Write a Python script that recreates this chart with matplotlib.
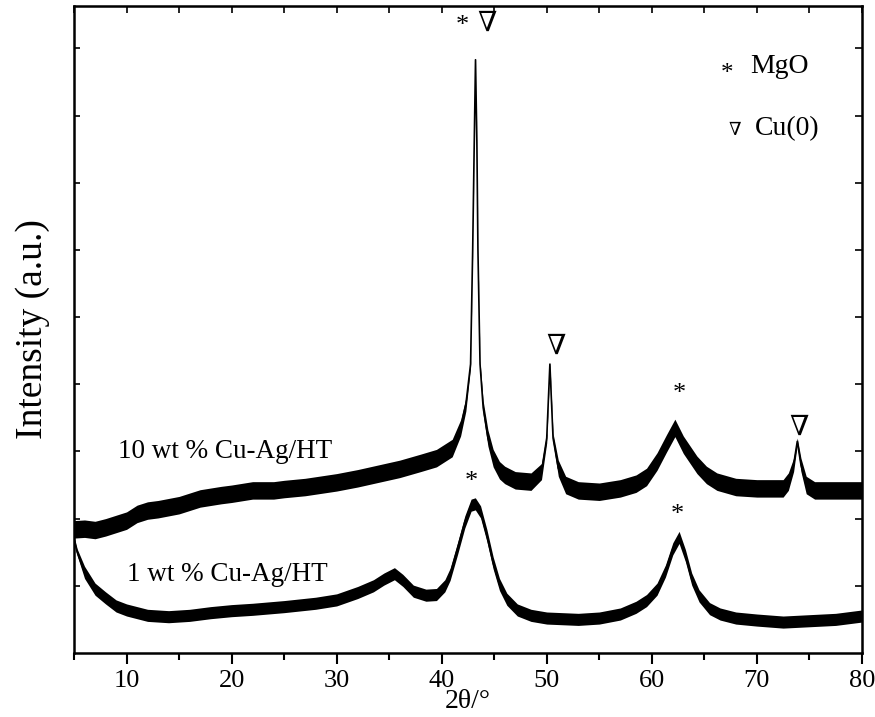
import matplotlib.pyplot as plt
import numpy as np

plt.rcParams['font.family'] = ['Liberation Serif', 'DejaVu Serif']

# 10 wt % Cu-Ag/HT (upper trace) - centre line and noise half-width
x_10 = [5, 6, 7, 8, 9, 10, 11, 12, 13, 15, 17, 19, 20, 22, 24, 25, 27, 30, 32, 34, 36, 38,
        39.5, 40.5, 41.0, 41.8, 42.3, 42.75, 42.95, 43.1, 43.22, 43.35, 43.45, 43.65, 43.95,
        44.4, 44.9, 45.5, 46.0, 47.0, 48.5, 49.5, 50.0, 50.3, 50.6, 51.1, 51.8, 53, 55, 57,
        58.5, 59.5, 60.5, 61.4, 62.2, 63.0, 64.3, 65.2, 66.2, 68, 70, 72.5, 73.0, 73.5, 73.85,
        74.2, 74.7, 75.5, 77.5, 80]
y_10 = [1.84, 1.85, 1.83, 1.87, 1.92, 1.97, 2.07, 2.12, 2.14, 2.2, 2.3, 2.35, 2.37, 2.42,
        2.42, 2.44, 2.47, 2.54, 2.6, 2.67, 2.74, 2.83, 2.9, 3.0, 3.05, 3.35, 3.7, 4.3, 6.0,
        7.6, 8.83, 7.6, 6.0, 4.3, 3.65, 3.2, 2.9, 2.72, 2.65, 2.57, 2.55, 2.7, 3.2, 4.3, 3.2,
        2.75, 2.5, 2.42, 2.4, 2.45, 2.52, 2.62, 2.85, 3.12, 3.35, 3.1, 2.8, 2.65, 2.55, 2.47,
        2.45, 2.45, 2.55, 2.8, 3.15, 2.8, 2.5, 2.42, 2.42, 2.42]
n_10 = [0.13, 0.13, 0.13, 0.13, 0.13, 0.13, 0.13, 0.13, 0.13, 0.13, 0.13, 0.13, 0.13, 0.13,
        0.13, 0.13, 0.13, 0.13, 0.13, 0.13, 0.13, 0.13, 0.13, 0.13, 0.13, 0.12, 0.1, 0.05,
        0.03, 0.02, 0.01, 0.02, 0.03, 0.05, 0.1, 0.12, 0.13, 0.13, 0.13, 0.13, 0.13, 0.12,
        0.07, 0.03, 0.07, 0.12, 0.13, 0.13, 0.13, 0.13, 0.13, 0.13, 0.13, 0.13, 0.13, 0.13,
        0.13, 0.13, 0.13, 0.13, 0.13, 0.13, 0.13, 0.1, 0.05, 0.1, 0.13, 0.13, 0.13, 0.13]

# 1 wt % Cu-Ag/HT (lower trace)
x_1 = [5, 5.3, 6, 7, 8, 9, 10, 12, 14, 16, 18, 20, 22, 25, 28, 30, 32, 33.5, 34.5, 35.5,
       36.3, 37.3, 38.5, 39.5, 40.3, 40.8, 41.5, 42.2, 42.8, 43.2, 43.7, 44.3, 44.9, 45.5,
       46.2, 47.2, 48.5, 50, 53, 55, 57, 58.5, 59.5, 60.5, 61.3, 62.0, 62.6, 63.2, 63.8,
       64.5, 65.5, 66.5, 68, 70, 72.5, 75, 77.5, 80]
y_1 = [1.69, 1.5, 1.2, 0.95, 0.82, 0.7, 0.64, 0.56, 0.54, 0.56, 0.6, 0.63, 0.65, 0.69,
       0.74, 0.79, 0.9, 1.0, 1.1, 1.18, 1.08, 0.92, 0.86, 0.87, 1.0, 1.17, 1.55, 1.95, 2.2,
       2.22, 2.1, 1.75, 1.34, 1.02, 0.8, 0.64, 0.56, 0.52, 0.5, 0.52, 0.58, 0.68, 0.78, 0.95,
       1.22, 1.55, 1.72, 1.45, 1.1, 0.85, 0.66, 0.58, 0.52, 0.49, 0.46, 0.48, 0.5, 0.55]
n_1 = [0.05] * 2 + [0.09] * (len(x_1) - 2)

# peak markers: (x, y, symbol, size)
marks = [(42.0, 9.33, '*', 19), (44.3, 9.36, '∇', 20),
         (50.85, 4.55, '∇', 20), (62.6, 3.85, '*', 19), (74.0, 3.35, '∇', 20),
         (42.85, 2.55, '*', 19), (62.45, 2.06, '*', 19)]

fig = plt.figure(figsize=(8.75, 7.17), dpi=100)
ax = fig.add_axes([0.0846, 0.0893, 0.9004, 0.9023])

for xs, ys, ns in [(x_10, y_10, n_10), (x_1, y_1, n_1)]:
    xs = np.array(xs)
    ys = np.array(ys)
    ns = np.array(ns)
    ax.fill_between(xs, ys - ns, ys + ns, color='black', linewidth=0)
    ax.plot(xs, ys, color='black', linewidth=1.2)

for mx, my, sym, fs in marks:
    ax.text(mx, my, sym, fontsize=fs, ha='center', va='center')

ax.text(9.2, 3.0, '10 wt % Cu-Ag/HT', fontsize=19.5, va='center')
ax.text(10.0, 1.17, '1 wt % Cu-Ag/HT', fontsize=19.5, va='center')

ax.text(67.2, 8.62, '*', fontsize=18, ha='center', va='center')
ax.text(69.4, 8.73, 'MgO', fontsize=20, va='center')
ax.text(67.9, 7.78, '∇', fontsize=13, ha='center', va='center')
ax.text(69.8, 7.8, 'Cu(0)', fontsize=20, va='center')

ax.set_xlim(5, 80)
ax.set_ylim(0, 9.63)
ax.set_xticks([10, 20, 30, 40, 50, 60, 70, 80])
ax.set_xticks(np.arange(5, 81, 5), minor=True)
ax.set_yticks(np.arange(1, 10))
ax.set_yticklabels([])
ax.tick_params(axis='x', which='major', direction='out', length=8, width=1.5, labelsize=19, pad=4)
ax.tick_params(axis='x', which='minor', direction='out', length=5, width=1.5)
ax.tick_params(axis='y', which='major', direction='in', length=4, width=1.2)

for s in ax.spines.values():
    s.set_linewidth(1.8)

# top/right ticks point inward
sec_x = ax.secondary_xaxis('top')
sec_x.set_xticks(np.arange(5, 81, 5))
sec_x.set_xticklabels([])
sec_x.tick_params(direction='in', length=5, width=1.2)
sec_y = ax.secondary_yaxis('right')
sec_y.set_yticks(np.arange(1, 10))
sec_y.set_yticklabels([])
sec_y.tick_params(direction='in', length=5, width=1.2)

ax.set_xlabel('2θ/°', fontsize=20, labelpad=-2)
ax.set_ylabel('Intensity (a.u.)', fontsize=27, labelpad=14)

fig.savefig('out.png', dpi=100)
